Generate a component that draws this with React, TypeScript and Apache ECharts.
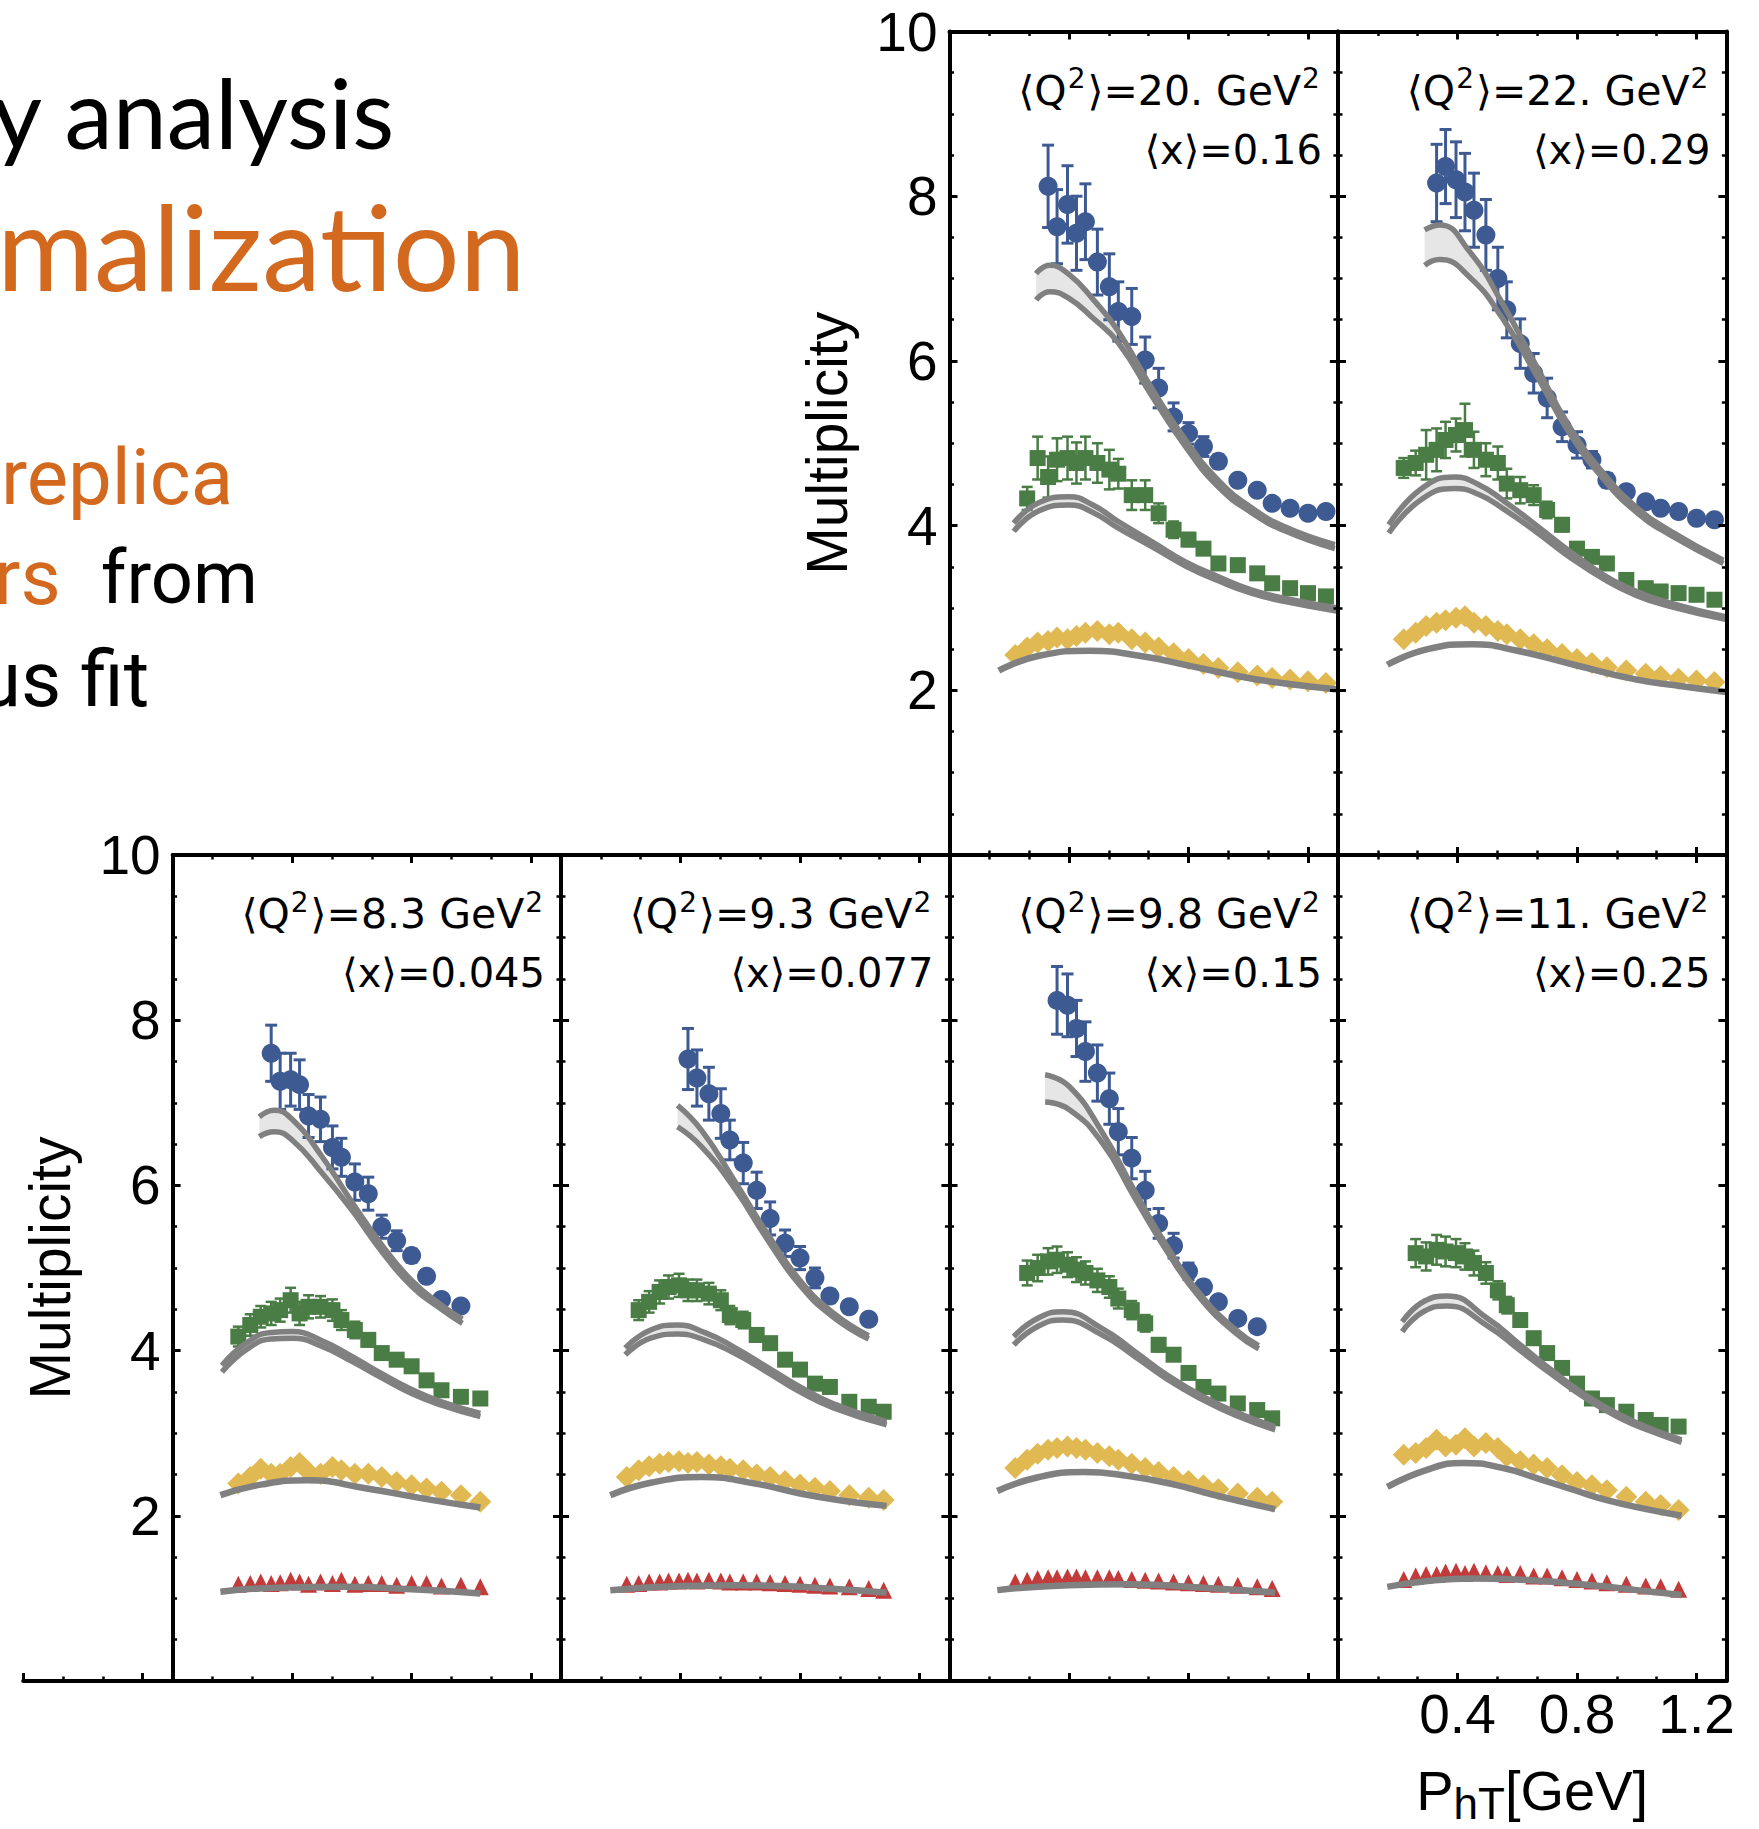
import React, { useEffect, useRef } from "react";
import * as echarts from "echarts";

// ---------------------------------------------------------------------------
// Data: hadron multiplicities vs P_hT in six (<Q2>, <x>) bins, four z bins each
// (blue = highest z, then green, yellow, red = lowest z).  All points share the
// same P_hT grid; each series lists its values starting from its first P_hT.
// ---------------------------------------------------------------------------

const phT = [0.22, 0.26, 0.295, 0.33, 0.36, 0.395, 0.425, 0.455, 0.495, 0.535, 0.565, 0.61,
  0.655, 0.7, 0.75, 0.8, 0.85, 0.9, 0.965, 1.03, 1.08, 1.14, 1.2, 1.26];

const q2Labels = ["8.3", "9.3", "9.8", "11.", "20.", "22."];
const xLabels = ["0.045", "0.077", "0.15", "0.25", "0.16", "0.29"];

const yTicks = [0, 2, 4, 6, 8, 10];
const xTicks = [0, 0.4, 0.8, 1.2];

// ---- bin 1: <Q2>=8.3, <x>=0.045 ----
const b1BlueFrom = 0.33;
const b1Blue = [7.6, 7.26, 7.28, 7.22, 6.84, 6.8, 6.46, 6.34, 6.04, 5.9, 5.5, 5.33, 5.15, 4.9, 4.62, 4.54];
const b1BlueErr = [0.34, 0.34, 0.32, 0.3, 0.26, 0.27, 0.26, 0.23, 0.22, 0.2, 0.14, 0.12, 0.08, 0.07, 0.06, 0.05];
const b1GreenFrom = 0.22;
const b1Green = [4.17, 4.31, 4.41, 4.45, 4.49, 4.61, 4.45, 4.53, 4.53, 4.49, 4.37, 4.25, 4.13, 3.97, 3.89, 3.81, 3.64, 3.52, 3.44, 3.42];
const b1GreenErr = [0.12, 0.13, 0.13, 0.14, 0.14, 0.15, 0.14, 0.14, 0.13, 0.13, 0.12, 0.1, 0.08, 0.07, 0.06, 0.05, 0.05, 0.05, 0.05, 0.05];
const b1YellowFrom = 0.22;
const b1Yellow = [2.39, 2.47, 2.57, 2.51, 2.51, 2.59, 2.64, 2.53, 2.51, 2.59, 2.55, 2.51, 2.51, 2.47, 2.41, 2.37, 2.33, 2.29, 2.25, 2.17];
const b1RedFrom = 0.22;
const b1Red = [1.17, 1.18, 1.2, 1.18, 1.19, 1.22, 1.2, 1.17, 1.2, 1.18, 1.22, 1.17, 1.18, 1.18, 1.16, 1.18, 1.18, 1.15, 1.16, 1.14];
// model bands (upper / lower edge)
const b1BlueFitX = [0.29, 0.34, 0.4, 0.5, 0.6, 0.7, 0.8, 0.9, 0.97];
const b1BlueFitHi = [6.83, 6.91, 6.8, 6.35, 5.8, 5.28, 4.85, 4.55, 4.38];
const b1BlueFitLo = [6.59, 6.65, 6.55, 6.15, 5.7, 5.2, 4.78, 4.5, 4.33];
const b1GreenFitX = [0.165, 0.25, 0.33, 0.4, 0.5, 0.6, 0.7, 0.8, 0.9, 1.03];
const b1GreenFitHi = [3.82, 4.1, 4.22, 4.23, 4.12, 3.93, 3.72, 3.53, 3.38, 3.24];
const b1GreenFitLo = [3.74, 4.02, 4.14, 4.15, 4.05, 3.87, 3.67, 3.48, 3.34, 3.2];
const b1YellowFitX = [0.16, 0.3, 0.45, 0.65, 0.87, 1.03];
const b1YellowFit = [2.25, 2.38, 2.43, 2.33, 2.19, 2.1];
const b1RedFitX = [0.16, 0.35, 0.57, 0.8, 1.03];
const b1RedFit = [1.08, 1.13, 1.14, 1.11, 1.06];

// ---- bin 2: <Q2>=9.3, <x>=0.077 ----
const b2BlueFrom = 0.425;
const b2Blue = [7.53, 7.3, 7.11, 6.87, 6.55, 6.27, 5.94, 5.6, 5.3, 5.12, 4.88, 4.66, 4.53, 4.38];
const b2BlueErr = [0.37, 0.34, 0.32, 0.3, 0.24, 0.25, 0.22, 0.2, 0.16, 0.14, 0.12, 0.08, 0.07, 0.06];
const b2GreenFrom = 0.26;
const b2Green = [4.49, 4.59, 4.71, 4.77, 4.79, 4.73, 4.73, 4.69, 4.61, 4.43, 4.37, 4.19, 4.09, 3.89, 3.77, 3.6, 3.56, 3.38, 3.32, 3.26];
const b2GreenErr = [0.12, 0.13, 0.14, 0.14, 0.14, 0.13, 0.13, 0.13, 0.12, 0.11, 0.1, 0.08, 0.07, 0.06, 0.05, 0.05, 0.05, 0.04, 0.04, 0.04];
const b2YellowFrom = 0.22;
const b2Yellow = [2.47, 2.55, 2.6, 2.63, 2.65, 2.66, 2.64, 2.65, 2.62, 2.6, 2.57, 2.55, 2.5, 2.47, 2.42, 2.38, 2.34, 2.3, 2.25, 2.22, 2.19];
const b2RedFrom = 0.22;
const b2Red = [1.17, 1.18, 1.2, 1.2, 1.21, 1.21, 1.22, 1.21, 1.22, 1.21, 1.2, 1.2, 1.2, 1.19, 1.18, 1.17, 1.16, 1.15, 1.14, 1.12, 1.1];
const b2BlueFitX = [0.39, 0.47, 0.58, 0.69, 0.8, 0.91, 1.03];
const b2BlueFitHi = [6.97, 6.67, 6.06, 5.42, 4.85, 4.46, 4.18];
const b2BlueFitLo = [6.71, 6.47, 5.97, 5.35, 4.79, 4.41, 4.14];
const b2GreenFitX = [0.215, 0.3, 0.39, 0.48, 0.58, 0.69, 0.8, 0.91, 1.09];
const b2GreenFitHi = [4.03, 4.25, 4.31, 4.22, 4.04, 3.8, 3.56, 3.36, 3.14];
const b2GreenFitLo = [3.95, 4.15, 4.2, 4.13, 3.97, 3.74, 3.5, 3.31, 3.1];
const b2YellowFitX = [0.165, 0.3, 0.47, 0.65, 0.8, 0.95, 1.09];
const b2YellowFit = [2.25, 2.4, 2.47, 2.39, 2.27, 2.18, 2.12];
const b2RedFitX = [0.165, 0.4, 0.6, 0.85, 1.09];
const b2RedFit = [1.1, 1.15, 1.16, 1.13, 1.07];

// ---- bin 3: <Q2>=9.8, <x>=0.15 ----
const b3BlueFrom = 0.36;
const b3Blue = [8.24, 8.18, 7.9, 7.62, 7.36, 7.05, 6.65, 6.33, 5.94, 5.54, 5.27, 4.96, 4.77, 4.59, 4.39, 4.29];
const b3BlueErr = [0.41, 0.38, 0.34, 0.36, 0.34, 0.31, 0.28, 0.25, 0.23, 0.18, 0.15, 0.1, 0.08, 0.07, 0.06, 0.05];
const b3GreenFrom = 0.26;
const b3Green = [4.94, 5.0, 5.08, 5.1, 5.04, 4.98, 4.94, 4.85, 4.77, 4.63, 4.49, 4.33, 4.07, 3.95, 3.73, 3.56, 3.48, 3.36, 3.28, 3.18];
const b3GreenErr = [0.15, 0.16, 0.16, 0.16, 0.15, 0.15, 0.14, 0.14, 0.13, 0.12, 0.11, 0.1, 0.08, 0.07, 0.06, 0.05, 0.05, 0.05, 0.04, 0.04];
const b3YellowFrom = 0.22;
const b3Yellow = [2.58, 2.68, 2.75, 2.8, 2.82, 2.84, 2.82, 2.8, 2.76, 2.72, 2.68, 2.63, 2.58, 2.53, 2.47, 2.42, 2.37, 2.32, 2.27, 2.22, 2.17];
const b3RedFrom = 0.22;
const b3Red = [1.2, 1.22, 1.24, 1.25, 1.25, 1.26, 1.26, 1.25, 1.25, 1.25, 1.24, 1.23, 1.22, 1.21, 1.2, 1.19, 1.18, 1.17, 1.16, 1.14, 1.12];
const b3BlueFitX = [0.32, 0.4, 0.51, 0.62, 0.73, 0.84, 0.955, 1.035];
const b3BlueFitHi = [7.34, 7.2, 6.65, 5.93, 5.25, 4.68, 4.26, 4.06];
const b3BlueFitLo = [7.01, 6.92, 6.52, 5.85, 5.19, 4.63, 4.22, 4.02];
const b3GreenFitX = [0.215, 0.3, 0.38, 0.51, 0.62, 0.73, 0.84, 0.955, 1.09];
const b3GreenFitHi = [4.17, 4.4, 4.47, 4.27, 3.99, 3.7, 3.46, 3.26, 3.08];
const b3GreenFitLo = [4.07, 4.3, 4.37, 4.19, 3.93, 3.65, 3.42, 3.22, 3.04];
const b3YellowFitX = [0.16, 0.3, 0.45, 0.6, 0.75, 0.9, 1.09];
const b3YellowFit = [2.3, 2.47, 2.53, 2.48, 2.38, 2.24, 2.08];
const b3RedFitX = [0.16, 0.4, 0.6, 0.85, 1.09];
const b3RedFit = [1.1, 1.16, 1.17, 1.13, 1.07];

// ---- bin 4: <Q2>=11, <x>=0.25 (no blue bin) ----
const b4GreenFrom = 0.26;
const b4Green = [5.18, 5.14, 5.22, 5.2, 5.18, 5.14, 5.06, 4.94, 4.73, 4.55, 4.37, 4.15, 3.97, 3.79, 3.6, 3.42, 3.34, 3.26, 3.16, 3.1, 3.08];
const b4GreenErr = [0.17, 0.17, 0.18, 0.18, 0.17, 0.16, 0.15, 0.13, 0.11, 0.1, 0.08, 0.07, 0.06, 0.05, 0.05, 0.05, 0.04, 0.04, 0.04, 0.04, 0.04];
const b4YellowFrom = 0.22;
const b4Yellow = [2.74, 2.76, 2.82, 2.92, 2.84, 2.86, 2.94, 2.84, 2.88, 2.82, 2.72, 2.66, 2.62, 2.58, 2.49, 2.41, 2.37, 2.31, 2.23, 2.17, 2.13, 2.07];
const b4RedFrom = 0.22;
const b4Red = [1.23, 1.27, 1.29, 1.29, 1.32, 1.33, 1.3, 1.33, 1.31, 1.3, 1.29, 1.3, 1.27, 1.27, 1.25, 1.23, 1.21, 1.19, 1.17, 1.15, 1.14, 1.11];
const b4GreenFitX = [0.215, 0.29, 0.365, 0.5, 0.61, 0.72, 0.83, 0.945, 1.05, 1.15];
const b4GreenFitHi = [4.35, 4.6, 4.66, 4.39, 4.07, 3.75, 3.46, 3.22, 3.05, 2.92];
const b4GreenFitLo = [4.23, 4.48, 4.54, 4.3, 4.0, 3.7, 3.42, 3.18, 3.02, 2.89];
const b4YellowFitX = [0.165, 0.3, 0.42, 0.55, 0.67, 0.8, 0.9, 1.02, 1.15];
const b4YellowFit = [2.35, 2.56, 2.64, 2.58, 2.45, 2.3, 2.19, 2.09, 2.0];
const b4RedFitX = [0.165, 0.3, 0.45, 0.65, 0.85, 1.0, 1.15];
const b4RedFit = [1.14, 1.21, 1.24, 1.22, 1.16, 1.1, 1.04];

// ---- bin 5: <Q2>=20, <x>=0.16 (no red bin) ----
const b5BlueFrom = 0.33;
const b5Blue = [8.12, 7.63, 7.9, 7.55, 7.69, 7.2, 6.9, 6.6, 6.54, 6.01, 5.67, 5.32, 5.12, 4.96, 4.78, 4.55, 4.43, 4.27, 4.21, 4.15, 4.17];
const b5BlueErr = [0.5, 0.45, 0.47, 0.45, 0.46, 0.4, 0.4, 0.36, 0.34, 0.28, 0.24, 0.17, 0.13, 0.12, 0.08, 0.06, 0.05, 0.05, 0.04, 0.04, 0.04];
const b5GreenFrom = 0.26;
const b5Green = [4.33, 4.82, 4.59, 4.8, 4.82, 4.76, 4.82, 4.76, 4.68, 4.63, 4.37, 4.37, 4.15, 3.95, 3.83, 3.72, 3.54, 3.52, 3.42, 3.3, 3.24, 3.18, 3.14];
const b5GreenErr = [0.14, 0.26, 0.25, 0.26, 0.26, 0.25, 0.26, 0.24, 0.24, 0.18, 0.18, 0.18, 0.12, 0.1, 0.08, 0.07, 0.06, 0.05, 0.05, 0.05, 0.04, 0.04, 0.04];
const b5YellowFrom = 0.22;
const b5Yellow = [2.43, 2.52, 2.58, 2.6, 2.64, 2.62, 2.66, 2.7, 2.72, 2.68, 2.7, 2.62, 2.58, 2.52, 2.45, 2.38, 2.32, 2.27, 2.22, 2.18, 2.15, 2.13, 2.11, 2.09];
const b5BlueFitX = [0.29, 0.335, 0.4, 0.48, 0.565, 0.68, 0.79, 0.9, 1.01, 1.12, 1.29];
const b5BlueFitHi = [7.06, 7.16, 7.05, 6.75, 6.36, 5.65, 5.04, 4.55, 4.22, 3.99, 3.77];
const b5BlueFitLo = [6.74, 6.84, 6.76, 6.52, 6.22, 5.56, 4.96, 4.47, 4.16, 3.94, 3.72];
const b5GreenFitX = [0.215, 0.3, 0.4, 0.48, 0.565, 0.68, 0.79, 0.9, 1.01, 1.12, 1.3];
const b5GreenFitHi = [4.03, 4.28, 4.35, 4.25, 4.05, 3.8, 3.56, 3.38, 3.22, 3.12, 3.0];
const b5GreenFitLo = [3.93, 4.18, 4.25, 4.16, 3.97, 3.74, 3.51, 3.33, 3.18, 3.08, 2.96];
const b5YellowFitX = [0.165, 0.3, 0.47, 0.65, 0.8, 1.0, 1.15, 1.3];
const b5YellowFit = [2.24, 2.42, 2.48, 2.41, 2.3, 2.15, 2.07, 2.01];

// ---- bin 6: <Q2>=22, <x>=0.29 (no red bin) ----
const b6BlueFrom = 0.33;
const b6Blue = [8.16, 8.36, 8.2, 8.05, 7.83, 7.53, 7.0, 6.62, 6.21, 5.85, 5.55, 5.2, 4.98, 4.8, 4.55, 4.41, 4.29, 4.21, 4.17, 4.09, 4.07];
const b6BlueErr = [0.47, 0.45, 0.46, 0.47, 0.45, 0.43, 0.38, 0.34, 0.3, 0.24, 0.24, 0.18, 0.16, 0.1, 0.08, 0.07, 0.06, 0.05, 0.05, 0.04, 0.04];
const b6GreenFrom = 0.22;
const b6Green = [4.7, 4.76, 4.86, 4.92, 5.04, 5.1, 5.16, 4.92, 4.8, 4.76, 4.51, 4.43, 4.37, 4.19, 4.01, 3.72, 3.62, 3.54, 3.34, 3.24, 3.2, 3.18, 3.16, 3.1];
const b6GreenErr = [0.12, 0.15, 0.3, 0.26, 0.22, 0.2, 0.32, 0.22, 0.2, 0.2, 0.18, 0.16, 0.12, 0.1, 0.08, 0.07, 0.06, 0.05, 0.05, 0.05, 0.04, 0.04, 0.04, 0.04];
const b6YellowFrom = 0.22;
const b6Yellow = [2.62, 2.7, 2.78, 2.82, 2.85, 2.88, 2.9, 2.82, 2.78, 2.72, 2.68, 2.62, 2.56, 2.5, 2.44, 2.38, 2.33, 2.28, 2.24, 2.2, 2.17, 2.14, 2.12, 2.1];
const b6BlueFitX = [0.29, 0.34, 0.44, 0.55, 0.665, 0.775, 0.89, 1.0, 1.11, 1.29];
const b6BlueFitHi = [7.59, 7.65, 7.33, 6.7, 5.93, 5.2, 4.63, 4.22, 3.94, 3.58];
const b6BlueFitLo = [7.16, 7.23, 7.02, 6.52, 5.82, 5.12, 4.56, 4.16, 3.89, 3.54];
const b6GreenFitX = [0.17, 0.28, 0.39, 0.47, 0.555, 0.665, 0.775, 0.89, 1.0, 1.11, 1.3];
const b6GreenFitHi = [4.01, 4.45, 4.59, 4.5, 4.3, 4.0, 3.69, 3.4, 3.2, 3.06, 2.89];
const b6GreenFitLo = [3.91, 4.32, 4.45, 4.38, 4.2, 3.92, 3.62, 3.35, 3.15, 3.02, 2.86];
const b6YellowFitX = [0.165, 0.3, 0.45, 0.6, 0.79, 1.0, 1.15, 1.3];
const b6YellowFit = [2.31, 2.5, 2.56, 2.48, 2.31, 2.13, 2.05, 1.98];

// ---------------------------------------------------------------------------
// Layout and styles
// ---------------------------------------------------------------------------
const CHART_W = 1759;
const CHART_H = 1829;
const PANEL_W = 388.4;
const LOWER_TOP = 855;
const LOWER_H = 826;
const UPPER_TOP = 31.5;
const UPPER_H = 823.5;
const COLS = [172.6, 561, 949.5, 1338];

const BLUE = "#3e5a92";
const GREEN = "#4a7c45";
const YELLOW = "#e1b953";
const RED = "#c23b3a";
const MODEL = "#808080";
const BAND = "#e6e6e6";
const ORANGE = "#d2691f";

const SANS = "'Liberation Sans', Arial, Helvetica, sans-serif";
const LABEL_FONT = "'DejaVu Sans', 'Liberation Sans', sans-serif";
const SMOOTH = 0.5;

type Pt = [number, number];

const onGrid = (from: number, ys: number[]): Pt[] => {
  const i0 = phT.findIndex((p) => Math.abs(p - from) < 1e-9);
  return ys.map((y, i) => [phT[i0 + i], y]);
};
const withErr = (from: number, ys: number[], es: number[]) =>
  onGrid(from, ys).map((p, i) => [p[0], p[1], es[i]]);
const zipXY = (xs: number[], ys: number[]): Pt[] => xs.map((x, i) => [x, ys[i]]);

interface Measured { pts: Pt[]; err?: number[][]; }
interface Band { x: number[]; hi: number[]; lo: number[]; }
interface Curve { x: number[]; y: number[]; }
interface Panel {
  left: number; top: number; height: number;
  yLabels: boolean; xLabels: boolean;
  blue?: Measured; green?: Measured; yellow?: Measured; red?: Measured;
  blueFit?: Band; greenFit?: Band; yellowFit?: Curve; redFit?: Curve;
  label: number;
}

const panels: Panel[] = [
  {
    left: COLS[0], top: LOWER_TOP, height: LOWER_H, yLabels: true, xLabels: false, label: 0,
    blue: { pts: onGrid(b1BlueFrom, b1Blue), err: withErr(b1BlueFrom, b1Blue, b1BlueErr) },
    green: { pts: onGrid(b1GreenFrom, b1Green), err: withErr(b1GreenFrom, b1Green, b1GreenErr) },
    yellow: { pts: onGrid(b1YellowFrom, b1Yellow) },
    red: { pts: onGrid(b1RedFrom, b1Red) },
    blueFit: { x: b1BlueFitX, hi: b1BlueFitHi, lo: b1BlueFitLo },
    greenFit: { x: b1GreenFitX, hi: b1GreenFitHi, lo: b1GreenFitLo },
    yellowFit: { x: b1YellowFitX, y: b1YellowFit },
    redFit: { x: b1RedFitX, y: b1RedFit },
  },
  {
    left: COLS[1], top: LOWER_TOP, height: LOWER_H, yLabels: false, xLabels: false, label: 1,
    blue: { pts: onGrid(b2BlueFrom, b2Blue), err: withErr(b2BlueFrom, b2Blue, b2BlueErr) },
    green: { pts: onGrid(b2GreenFrom, b2Green), err: withErr(b2GreenFrom, b2Green, b2GreenErr) },
    yellow: { pts: onGrid(b2YellowFrom, b2Yellow) },
    red: { pts: onGrid(b2RedFrom, b2Red) },
    blueFit: { x: b2BlueFitX, hi: b2BlueFitHi, lo: b2BlueFitLo },
    greenFit: { x: b2GreenFitX, hi: b2GreenFitHi, lo: b2GreenFitLo },
    yellowFit: { x: b2YellowFitX, y: b2YellowFit },
    redFit: { x: b2RedFitX, y: b2RedFit },
  },
  {
    left: COLS[2], top: LOWER_TOP, height: LOWER_H, yLabels: false, xLabels: false, label: 2,
    blue: { pts: onGrid(b3BlueFrom, b3Blue), err: withErr(b3BlueFrom, b3Blue, b3BlueErr) },
    green: { pts: onGrid(b3GreenFrom, b3Green), err: withErr(b3GreenFrom, b3Green, b3GreenErr) },
    yellow: { pts: onGrid(b3YellowFrom, b3Yellow) },
    red: { pts: onGrid(b3RedFrom, b3Red) },
    blueFit: { x: b3BlueFitX, hi: b3BlueFitHi, lo: b3BlueFitLo },
    greenFit: { x: b3GreenFitX, hi: b3GreenFitHi, lo: b3GreenFitLo },
    yellowFit: { x: b3YellowFitX, y: b3YellowFit },
    redFit: { x: b3RedFitX, y: b3RedFit },
  },
  {
    left: COLS[3], top: LOWER_TOP, height: LOWER_H, yLabels: false, xLabels: true, label: 3,
    green: { pts: onGrid(b4GreenFrom, b4Green), err: withErr(b4GreenFrom, b4Green, b4GreenErr) },
    yellow: { pts: onGrid(b4YellowFrom, b4Yellow) },
    red: { pts: onGrid(b4RedFrom, b4Red) },
    greenFit: { x: b4GreenFitX, hi: b4GreenFitHi, lo: b4GreenFitLo },
    yellowFit: { x: b4YellowFitX, y: b4YellowFit },
    redFit: { x: b4RedFitX, y: b4RedFit },
  },
  {
    left: COLS[2], top: UPPER_TOP, height: UPPER_H, yLabels: true, xLabels: false, label: 4,
    blue: { pts: onGrid(b5BlueFrom, b5Blue), err: withErr(b5BlueFrom, b5Blue, b5BlueErr) },
    green: { pts: onGrid(b5GreenFrom, b5Green), err: withErr(b5GreenFrom, b5Green, b5GreenErr) },
    yellow: { pts: onGrid(b5YellowFrom, b5Yellow) },
    blueFit: { x: b5BlueFitX, hi: b5BlueFitHi, lo: b5BlueFitLo },
    greenFit: { x: b5GreenFitX, hi: b5GreenFitHi, lo: b5GreenFitLo },
    yellowFit: { x: b5YellowFitX, y: b5YellowFit },
  },
  {
    left: COLS[3], top: UPPER_TOP, height: UPPER_H, yLabels: false, xLabels: false, label: 5,
    blue: { pts: onGrid(b6BlueFrom, b6Blue), err: withErr(b6BlueFrom, b6Blue, b6BlueErr) },
    green: { pts: onGrid(b6GreenFrom, b6Green), err: withErr(b6GreenFrom, b6Green, b6GreenErr) },
    yellow: { pts: onGrid(b6YellowFrom, b6Yellow) },
    blueFit: { x: b6BlueFitX, hi: b6BlueFitHi, lo: b6BlueFitLo },
    greenFit: { x: b6GreenFitX, hi: b6GreenFitHi, lo: b6GreenFitLo },
    yellowFit: { x: b6YellowFitX, y: b6YellowFit },
  },
];

// ---------------------------------------------------------------------------
// Option builders
// ---------------------------------------------------------------------------
const FRAME = { color: "#000", width: 4 };
const MAJOR_TICK = { show: true, inside: true, length: 8, lineStyle: { color: "#000", width: 3 } };
const MINOR = (split: number) => ({ show: true, splitNumber: split, length: 4.5, lineStyle: { color: "#000", width: 2.5 } });

function xAxisFor(gi: number, pos: "bottom" | "top", labels: boolean, name?: boolean) {
  return {
    type: "value", gridIndex: gi, position: pos, z: 10,
    min: xTicks[0], max: 1.3, interval: xTicks[1] - xTicks[0],
    axisLine: { show: true, onZero: false, lineStyle: FRAME },
    axisTick: MAJOR_TICK,
    minorTick: MINOR(3),
    splitLine: { show: false },
    axisLabel: {
      show: labels, margin: 5, color: "#000", fontSize: 55, fontFamily: SANS,
      formatter: (v: number) => (xTicks.some((t) => t > 0 && Math.abs(t - v) < 1e-6) ? v.toFixed(1) : ""),
    },
    ...(name
      ? {
          name: "{a|P}{s|hT}{a|[GeV]}",
          nameLocation: "middle",
          nameGap: 74,
          nameTextStyle: {
            color: "#000",
            rich: {
              a: { fontSize: 56, fontFamily: SANS, color: "#000" },
              s: { fontSize: 44, fontFamily: SANS, color: "#000", padding: [26, 0, 0, 0] },
            },
          },
        }
      : {}),
  };
}

function yAxisFor(gi: number, pos: "left" | "right", labels: boolean) {
  return {
    type: "value", gridIndex: gi, position: pos, z: 10,
    min: yTicks[0], max: yTicks[yTicks.length - 1], interval: yTicks[1] - yTicks[0],
    axisLine: { show: true, onZero: false, lineStyle: FRAME },
    axisTick: MAJOR_TICK,
    minorTick: MINOR(4),
    splitLine: { show: false },
    axisLabel: {
      show: labels, margin: 12, color: "#000", fontSize: 55, fontFamily: SANS,
      formatter: (v: number) => (v > 0 ? String(v) : ""),
    },
    ...(labels
      ? {
          name: "Multiplicity", nameLocation: "middle", nameGap: 94,
          nameTextStyle: { fontSize: 57, fontFamily: SANS, color: "#000" },
        }
      : {}),
  };
}

function errorBars(ai: number, rows: number[][], color: string, width: number, cap: number) {
  return {
    type: "custom", xAxisIndex: ai, yAxisIndex: ai, z: 3, silent: true,
    data: rows,
    encode: { x: 0, y: 1 },
    renderItem: (_p: any, api: any) => {
      const x = api.value(0), y = api.value(1), e = api.value(2);
      const a = api.coord([x, y + e]);
      const b = api.coord([x, y - e]);
      const st = { stroke: color, lineWidth: width };
      return {
        type: "group",
        children: [
          { type: "line", shape: { x1: a[0], y1: a[1], x2: b[0], y2: b[1] }, style: st },
          { type: "line", shape: { x1: a[0] - cap, y1: a[1], x2: a[0] + cap, y2: a[1] }, style: st },
          { type: "line", shape: { x1: b[0] - cap, y1: b[1], x2: b[0] + cap, y2: b[1] }, style: st },
        ],
      };
    },
  };
}

function markers(ai: number, pts: Pt[], symbol: string, size: number, color: string) {
  return {
    type: "scatter", xAxisIndex: ai, yAxisIndex: ai, z: 4, silent: true,
    symbol, symbolSize: size, itemStyle: { color, opacity: 1 },
    data: pts,
  };
}

function modelLine(ai: number, pts: Pt[], width: number) {
  return {
    type: "line", xAxisIndex: ai, yAxisIndex: ai, z: 6, silent: true,
    data: pts, symbol: "none", smooth: SMOOTH,
    lineStyle: { color: MODEL, width, cap: "butt" },
  };
}

// cubic-bezier path through pixel points, using the same neighbour-tangent
// rule as the line series' smoothing so the fill follows the edge lines
function bezierThrough(pts: number[][], start: "M" | "L"): string {
  let d = `${start}${pts[0][0]},${pts[0][1]}`;
  let cp0 = pts[0];
  for (let i = 1; i < pts.length; i++) {
    const [x, y] = pts[i];
    const prev = pts[i - 1];
    let cp1 = [x, y];
    let nextCp0 = [x, y];
    if (i < pts.length - 1) {
      const next = pts[i + 1];
      const vx = next[0] - prev[0];
      const vy = next[1] - prev[1];
      const l0 = Math.hypot(x - prev[0], y - prev[1]);
      const l1 = Math.hypot(next[0] - x, next[1] - y);
      const r = l1 / (l0 + l1);
      cp1 = [x - vx * SMOOTH * (1 - r), y - vy * SMOOTH * (1 - r)];
      nextCp0 = [x + vx * SMOOTH * r, y + vy * SMOOTH * r];
    }
    d += ` C${cp0[0]},${cp0[1]} ${cp1[0]},${cp1[1]} ${x},${y}`;
    cp0 = nextCp0;
  }
  return d;
}

// light fill between the two model edges, then the two edge lines
function modelBand(ai: number, band: Band) {
  const hi = zipXY(band.x, band.hi);
  const lo = zipXY(band.x, band.lo);
  const fill = {
    type: "custom", xAxisIndex: ai, yAxisIndex: ai, z: 1, silent: true,
    data: [hi[0]],
    encode: { x: 0, y: 1 },
    renderItem: (_p: any, api: any) => {
      const top = hi.map((p) => api.coord(p));
      const bottom = lo.map((p) => api.coord(p)).reverse();
      const pathData = `${bezierThrough(top, "M")} ${bezierThrough(bottom, "L")} Z`;
      return { type: "path", shape: { pathData }, style: { fill: BAND, stroke: null } };
    },
  };
  return { fills: [fill], lines: [modelLine(ai, hi, 5.5), modelLine(ai, lo, 5.5)] };
}

function gridAt(left: number, top: number, width: number, height: number) {
  return { left, top, width, height, containLabel: false, outerBoundsMode: "none" };
}

function buildOption() {
  const grids: any[] = [];
  const xAxes: any[] = [];
  const yAxes: any[] = [];
  const series: any[] = [];
  const graphics: any[] = [];

  panels.forEach((p, gi) => {
    grids.push(gridAt(p.left, p.top, PANEL_W, p.height));
    xAxes.push(xAxisFor(gi, "bottom", p.xLabels, p.xLabels));
    xAxes.push(xAxisFor(gi, "top", false));
    yAxes.push(yAxisFor(gi, "left", p.yLabels));
    yAxes.push(yAxisFor(gi, "right", false));
    const ai = gi * 2;

    const bands = [p.blueFit, p.greenFit].filter(Boolean).map((b) => modelBand(ai, b as Band));
    bands.forEach((b) => series.push(...b.fills));

    if (p.red) series.push(markers(ai, p.red.pts, "triangle", 17, RED));
    if (p.yellow) series.push(markers(ai, p.yellow.pts, "diamond", 22, YELLOW));
    if (p.green) {
      if (p.green.err) series.push(errorBars(ai, p.green.err, GREEN, 2.5, 5.5));
      series.push(markers(ai, p.green.pts, "rect", 16, GREEN));
    }
    if (p.blue) {
      if (p.blue.err) series.push(errorBars(ai, p.blue.err, BLUE, 3, 6));
      series.push(markers(ai, p.blue.pts, "circle", 19, BLUE));
    }

    bands.forEach((b) => series.push(...b.lines));
    if (p.yellowFit) series.push(modelLine(ai, zipXY(p.yellowFit.x, p.yellowFit.y), 6.5));
    if (p.redFit) series.push(modelLine(ai, zipXY(p.redFit.x, p.redFit.y), 6.5));

    const right = p.left + PANEL_W - 16;
    const rich = {
      a: { fontSize: 41, fontFamily: LABEL_FONT, fill: "#000", lineHeight: 52 },
      s: { fontSize: 28, fontFamily: LABEL_FONT, fill: "#000", lineHeight: 28, verticalAlign: "top", padding: [0, 2, 0, 1] },
    };
    graphics.push({
      type: "text", x: right, y: p.top + 59, z: 10, silent: true,
      style: {
        text: `{a|⟨Q}{s|2}{a|⟩=${q2Labels[p.label]} GeV}{s|2}`,
        align: "right", verticalAlign: "middle", rich,
      },
    });
    graphics.push({
      type: "text", x: right, y: p.top + 118, z: 10, silent: true,
      style: {
        text: `⟨x⟩=${xLabels[p.label]}`, fill: "#000",
        font: `40px ${LABEL_FONT}`, align: "right", verticalAlign: "middle",
      },
    });
  });

  // continuation of the bottom axis to the left of the first lower panel
  const stubGi = panels.length;
  const stubMin = 0.8;
  const stubW = (PANEL_W * (1.3 - stubMin)) / 1.3;
  grids.push(gridAt(COLS[0] - stubW, LOWER_TOP, stubW, LOWER_H));
  xAxes.push({
    type: "value", gridIndex: stubGi, position: "bottom", min: stubMin, max: 1.3, interval: 0.4, z: 10,
    axisLine: { show: true, onZero: false, lineStyle: FRAME },
    axisTick: MAJOR_TICK, minorTick: MINOR(3), splitLine: { show: false },
    axisLabel: { show: false },
  });
  yAxes.push({ type: "value", gridIndex: stubGi, show: false, min: 0, max: 10 });

  // slide heading fragments on the left
  graphics.push(
    {
      type: "text", x: -8, y: 111, silent: true,
      style: { text: "y analysis", fill: "#000", font: "97px Lato, 'Open Sans', sans-serif", verticalAlign: "middle" },
    },
    {
      type: "text", x: -3, y: 245, silent: true,
      style: { text: "malization", fill: ORANGE, font: "118px Lato, 'Open Sans', sans-serif", verticalAlign: "middle" },
    },
    {
      type: "text", x: 1, y: 477, silent: true,
      style: { text: "replica", fill: ORANGE, font: "78px Roboto, sans-serif", verticalAlign: "middle" },
    },
    {
      type: "text", x: -6, y: 577, silent: true,
      style: {
        text: "{o|rs}{k|from}", verticalAlign: "middle",
        rich: {
          o: { fill: ORANGE, font: "78px Roboto, sans-serif", padding: [0, 40, 0, 0] },
          k: { fill: "#000", font: "74px Roboto, sans-serif" },
        },
      },
    },
    {
      type: "text", x: -22, y: 679, silent: true,
      style: { text: "us fit", fill: "#000", font: "78px Roboto, sans-serif", verticalAlign: "middle" },
    },
  );

  return {
    animation: false,
    backgroundColor: "#fff",
    grid: grids,
    xAxis: xAxes,
    yAxis: yAxes,
    series,
    graphic: graphics,
  };
}

export default function App() {
  const ref = useRef<HTMLDivElement>(null);
  useEffect(() => {
    if (!ref.current) return;
    const chart = echarts.init(ref.current, undefined, { renderer: "svg", width: CHART_W, height: CHART_H });
    chart.setOption(buildOption() as any);
    return () => chart.dispose();
  }, []);
  return (
    <div
      ref={ref}
      style={{ position: "absolute", left: 0, top: 0, width: CHART_W, height: CHART_H, background: "#fff" }}
    />
  );
}
